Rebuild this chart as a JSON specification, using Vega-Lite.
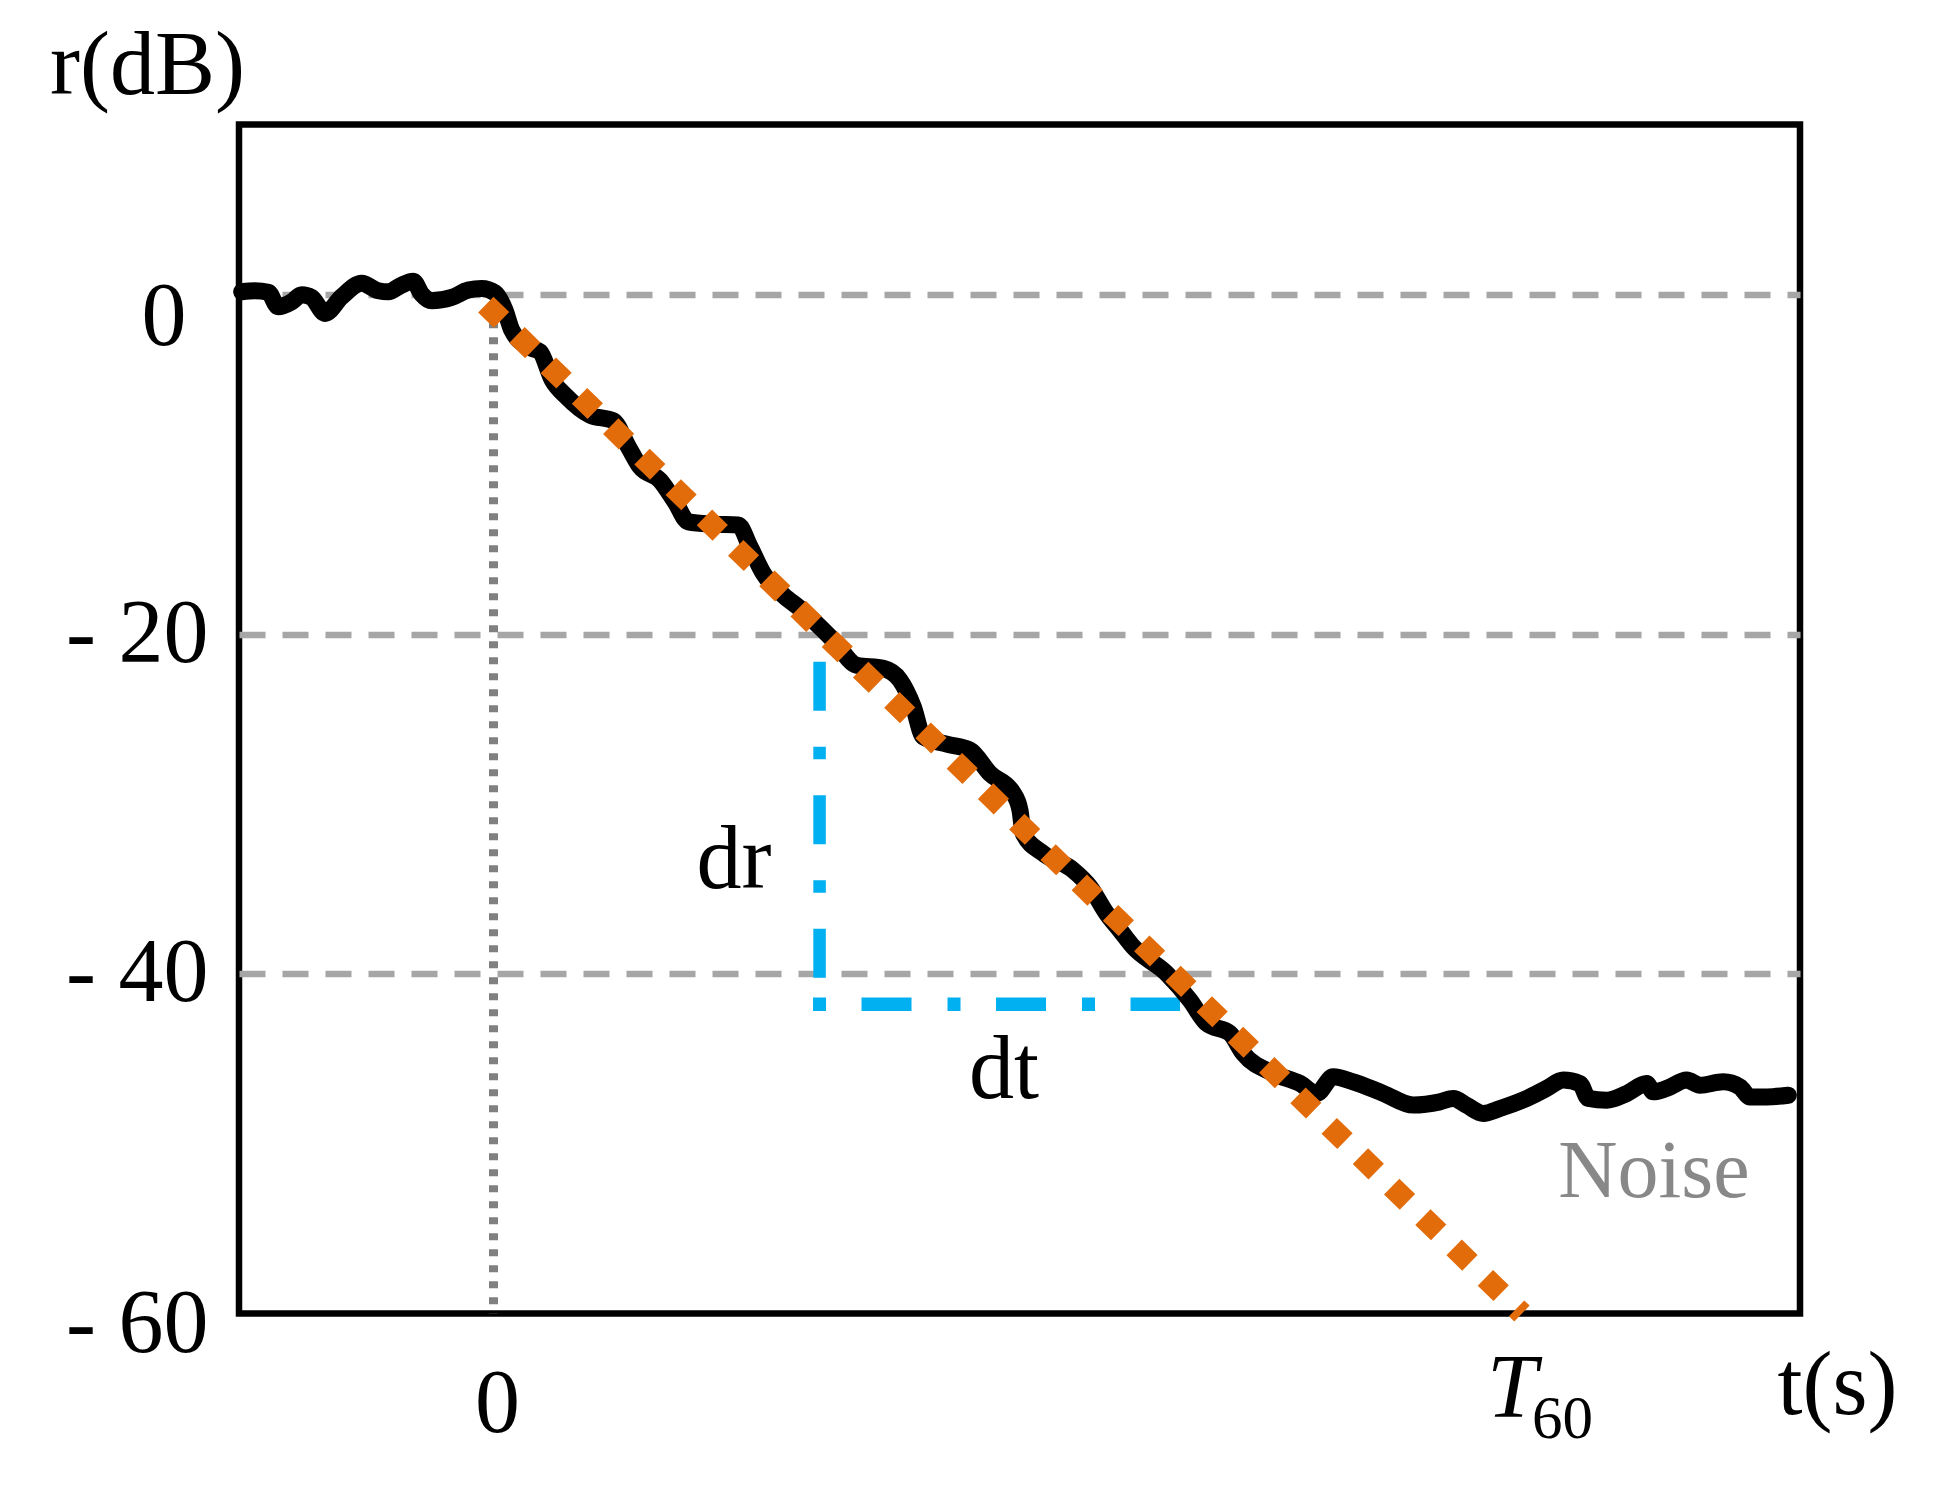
{
  "$schema": "https://vega.github.io/schema/vega-lite/v6.json",
  "width": 1561,
  "height": 1189,
  "autosize": {"type": "none"},
  "padding": {"left": 239, "top": 124.5, "right": 134, "bottom": 174.5},
  "background": "white",
  "config": {
    "view": {"stroke": "#000000", "strokeWidth": 6.5},
    "font": "Liberation Serif"
  },
  "datasets": {
    "curve": [
      {"t": -0.2458, "r": 0.15}, {"t": -0.2328, "r": 0.21}, {"t": -0.2198, "r": 0.12}, {"t": -0.2101, "r": -0.73},
      {"t": -0.1970, "r": -0.44}, {"t": -0.1872, "r": -0.02}, {"t": -0.1775, "r": -0.18}, {"t": -0.1645, "r": -1.12},
      {"t": -0.1482, "r": -0.14}, {"t": -0.1286, "r": 0.65}, {"t": -0.1124, "r": 0.21}, {"t": -0.1027, "r": 0.15},
      {"t": -0.0896, "r": 0.55}, {"t": -0.0783, "r": 0.77}, {"t": -0.0701, "r": 0.02}, {"t": -0.0603, "r": -0.38},
      {"t": -0.0408, "r": -0.18}, {"t": -0.0246, "r": 0.25}, {"t": -0.0115, "r": 0.35}, {"t": 0.0015, "r": 0.09},
      {"t": 0.0112, "r": -0.92}, {"t": 0.0178, "r": -2.10}, {"t": 0.0340, "r": -3.09}, {"t": 0.0454, "r": -3.38},
      {"t": 0.0574, "r": -5.05}, {"t": 0.0714, "r": -6.03}, {"t": 0.0942, "r": -7.11}, {"t": 0.1169, "r": -7.44},
      {"t": 0.1316, "r": -8.97}, {"t": 0.1430, "r": -10.15}, {"t": 0.1625, "r": -10.94}, {"t": 0.1772, "r": -12.21},
      {"t": 0.1901, "r": -13.39}, {"t": 0.2145, "r": -13.53}, {"t": 0.2389, "r": -13.58}, {"t": 0.2504, "r": -14.86},
      {"t": 0.2634, "r": -16.43}, {"t": 0.2829, "r": -17.71}, {"t": 0.2992, "r": -18.49}, {"t": 0.3317, "r": -20.36},
      {"t": 0.3545, "r": -21.83}, {"t": 0.3805, "r": -22.02}, {"t": 0.3968, "r": -22.71}, {"t": 0.4098, "r": -24.28},
      {"t": 0.4195, "r": -26.05}, {"t": 0.4424, "r": -26.48}, {"t": 0.4651, "r": -26.83}, {"t": 0.4846, "r": -28.21},
      {"t": 0.5074, "r": -29.38}, {"t": 0.5139, "r": -30.37}, {"t": 0.5171, "r": -31.74}, {"t": 0.5367, "r": -32.92},
      {"t": 0.5659, "r": -33.90}, {"t": 0.5822, "r": -34.88}, {"t": 0.5985, "r": -36.45}, {"t": 0.6115, "r": -37.43},
      {"t": 0.6245, "r": -38.42}, {"t": 0.6571, "r": -39.98}, {"t": 0.6798, "r": -41.55}, {"t": 0.6961, "r": -42.92},
      {"t": 0.7189, "r": -43.51}, {"t": 0.7319, "r": -44.69}, {"t": 0.7612, "r": -45.86}, {"t": 0.7872, "r": -46.45},
      {"t": 0.8035, "r": -47.04}, {"t": 0.8197, "r": -46.06}, {"t": 0.8392, "r": -46.36}, {"t": 0.8685, "r": -47.04},
      {"t": 0.8978, "r": -47.73}, {"t": 0.9239, "r": -47.54}, {"t": 0.9368, "r": -47.34}, {"t": 0.9499, "r": -47.74},
      {"t": 0.9661, "r": -48.22}, {"t": 0.9824, "r": -47.93}, {"t": 1.0085, "r": -47.34}, {"t": 1.0280, "r": -46.75},
      {"t": 1.0442, "r": -46.26}, {"t": 1.0605, "r": -46.46}, {"t": 1.0686, "r": -47.34}, {"t": 1.0866, "r": -47.44},
      {"t": 1.1061, "r": -47.05}, {"t": 1.1256, "r": -46.46}, {"t": 1.1321, "r": -46.95}, {"t": 1.1452, "r": -46.75},
      {"t": 1.1647, "r": -46.26}, {"t": 1.1777, "r": -46.56}, {"t": 1.2004, "r": -46.36}, {"t": 1.2167, "r": -46.66},
      {"t": 1.2265, "r": -47.25}, {"t": 1.2428, "r": -47.25}, {"t": 1.2639, "r": -47.15}
    ],
    "fit": [{"t": -0.0075, "r": -0.6}, {"t": 1.0039, "r": -60}],
    "guide": [{"t": 0, "r": 0.3, "r2": -60}],
    "drline": [{"t": 0.3183, "r": -21.63, "r2": -40.33}],
    "dtline": [{"t": 0.3119, "t2": 0.6701, "r": -41.79}],
    "notes": [{"t": 0.2347, "r": -34.96, "label": "dr"}, {"t": 0.4983, "r": -47.31, "label": "dt"}],
    "noise": [{"t": 1.1328, "r": -53.15, "label": "Noise"}],
    "t60": [{"t": 1, "r": -60, "main": "T", "sub": "60"}]
  },
  "encoding": {
    "x": {
      "field": "t",
      "type": "quantitative",
      "scale": {"domain": [-0.2484, 1.2753], "nice": false, "zero": false},
      "axis": {
        "values": [0],
        "grid": false,
        "domain": false,
        "ticks": false,
        "tickSize": 0,
        "labelExpr": "'0'",
        "labelFont": "Liberation Serif",
        "labelFontSize": 90,
        "labelColor": "#000000",
        "labelBaseline": "alphabetic",
        "labelPadding": 117.5,
        "labelOffset": 3.5,
        "labelFlush": false,
        "labelOverlap": false,
        "title": "t(s)",
        "titleFont": "Liberation Serif",
        "titleFontSize": 90,
        "titleFontWeight": "normal",
        "titleColor": "#000000",
        "titleX": 1658,
        "titleY": 99.5,
        "titleAlign": "right",
        "titleBaseline": "alphabetic"
      }
    },
    "y": {
      "field": "r",
      "type": "quantitative",
      "scale": {"domain": [-60, 10], "nice": false, "zero": false},
      "axis": {
        "values": [0, -20, -40, -60],
        "grid": true,
        "gridColor": "#A6A6A6",
        "gridWidth": 6.5,
        "gridDash": [26, 17],
        "gridOpacity": {"condition": {"test": "datum.value === -60", "value": 0}, "value": 1},
        "domain": false,
        "ticks": false,
        "tickSize": 0,
        "labelExpr": "datum.value === 0 ? '0' : '- ' + abs(datum.value)",
        "labelFont": "Liberation Serif",
        "labelFontSize": 90,
        "labelColor": "#000000",
        "labelAlign": "right",
        "labelBaseline": "middle",
        "labelPadding": {"condition": {"test": "datum.value === 0", "value": 53}, "value": 31},
        "labelOffset": {"condition": [{"test": "datum.value === 0", "value": 23.5}, {"test": "datum.value === -60", "value": 10.7}], "value": 0},
        "labelFlush": false,
        "labelOverlap": false,
        "title": "r(dB)",
        "titleFont": "Liberation Serif",
        "titleFontSize": 90,
        "titleFontWeight": "normal",
        "titleColor": "#000000",
        "titleAngle": 0,
        "titleX": -189.5,
        "titleY": -31.2,
        "titleAlign": "left",
        "titleBaseline": "alphabetic"
      }
    }
  },
  "layer": [
    {
      "data": {"name": "guide"},
      "mark": {"type": "rule", "color": "#808080", "strokeWidth": 9, "strokeDash": [7, 9], "strokeCap": "butt"},
      "encoding": {"y2": {"field": "r2"}}
    },
    {
      "data": {"name": "drline"},
      "mark": {"type": "rule", "color": "#00B0F0", "strokeWidth": 12.5, "strokeDash": [49, 36, 12.5, 36], "strokeCap": "butt"},
      "encoding": {"y2": {"field": "r2"}}
    },
    {
      "data": {"name": "dtline"},
      "mark": {"type": "rule", "color": "#00B0F0", "strokeWidth": 13.4, "strokeDash": [13, 35.5, 50, 36], "strokeCap": "butt"},
      "encoding": {"x2": {"field": "t2"}}
    },
    {
      "data": {"name": "curve"},
      "mark": {"type": "line", "color": "#000000", "strokeWidth": 17, "strokeCap": "round", "strokeJoin": "round", "interpolate": "monotone"}
    },
    {
      "data": {"name": "fit"},
      "mark": {"type": "line", "color": "#E36C0A", "strokeWidth": 22, "strokeDash": [22, 21.6], "strokeCap": "butt", "clip": false}
    },
    {
      "data": {"name": "notes"},
      "mark": {"type": "text", "font": "Liberation Serif", "fontSize": 90, "color": "#000000", "align": "center", "baseline": "alphabetic"},
      "encoding": {"text": {"field": "label"}}
    },
    {
      "data": {"name": "noise"},
      "mark": {"type": "text", "font": "Liberation Serif", "fontSize": 82, "color": "#888888", "align": "center", "baseline": "alphabetic"},
      "encoding": {"text": {"field": "label"}}
    },
    {
      "data": {"name": "t60"},
      "mark": {"type": "text", "font": "Liberation Serif", "fontSize": 90, "fontStyle": "italic", "color": "#000000", "align": "center", "baseline": "alphabetic", "dx": -6, "dy": 103.5},
      "encoding": {"text": {"field": "main"}}
    },
    {
      "data": {"name": "t60"},
      "mark": {"type": "text", "font": "Liberation Serif", "fontSize": 61, "color": "#000000", "align": "left", "baseline": "alphabetic", "dx": 14, "dy": 124.5},
      "encoding": {"text": {"field": "sub"}}
    }
  ]
}
